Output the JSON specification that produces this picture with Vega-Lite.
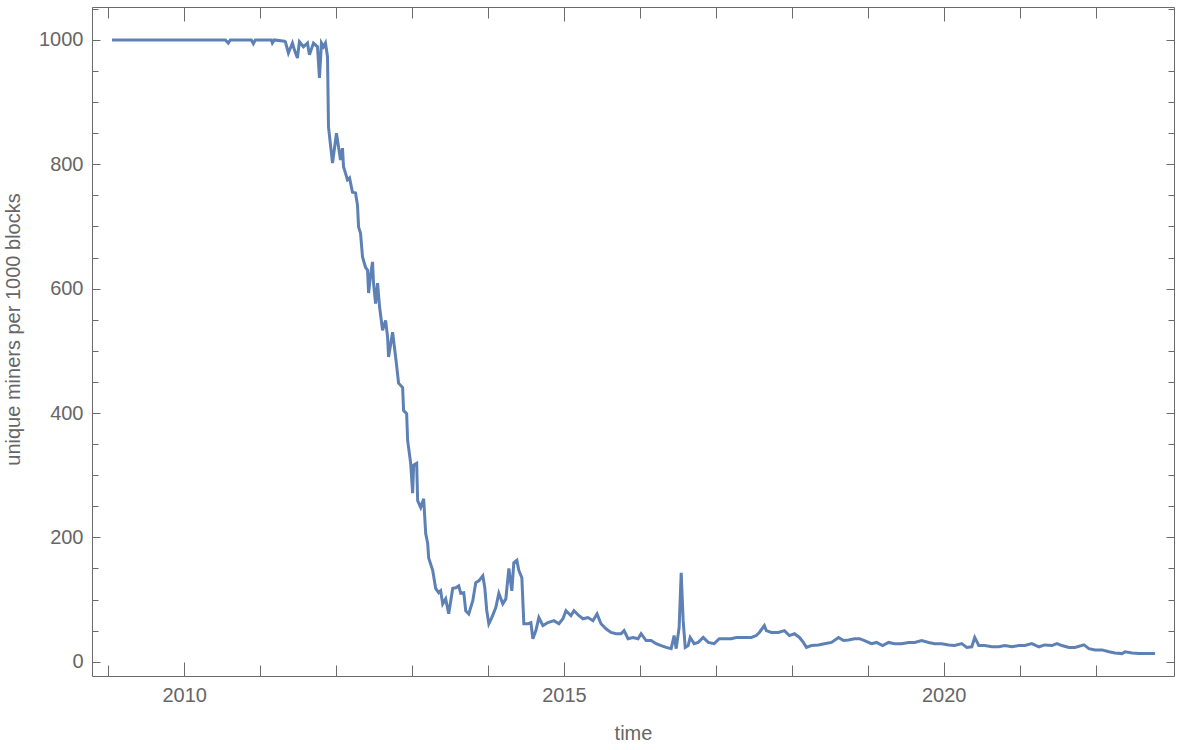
{
  "$schema": "https://vega.github.io/schema/vega-lite/v6.json",
  "width": 1082,
  "height": 669,
  "autosize": "none",
  "padding": {"left": 92, "top": 7, "right": 3, "bottom": 74},
  "background": "white",
  "config": {
    "view": {"stroke": null},
    "axis": {
      "grid": false,
      "domainColor": "#6b6b6b",
      "tickColor": "#6b6b6b",
      "labelColor": "#666666",
      "titleColor": "#666666",
      "labelFont": "Liberation Sans",
      "titleFont": "Liberation Sans",
      "labelFontSize": 20,
      "titleFontSize": 20,
      "titleFontWeight": "normal",
      "labelFlush": false,
      "labelOverlap": false
    }
  },
  "data": {"values": [
    {"year": 2009.050, "miners": 1000},
    {"year": 2010.541, "miners": 1000},
    {"year": 2010.580, "miners": 995},
    {"year": 2010.607, "miners": 1000},
    {"year": 2010.884, "miners": 1000},
    {"year": 2010.910, "miners": 994},
    {"year": 2010.937, "miners": 1000},
    {"year": 2011.148, "miners": 1000},
    {"year": 2011.161, "miners": 995},
    {"year": 2011.187, "miners": 1000},
    {"year": 2011.319, "miners": 998},
    {"year": 2011.332, "miners": 997},
    {"year": 2011.372, "miners": 979},
    {"year": 2011.425, "miners": 995},
    {"year": 2011.451, "miners": 984},
    {"year": 2011.491, "miners": 971},
    {"year": 2011.517, "miners": 997},
    {"year": 2011.570, "miners": 989},
    {"year": 2011.623, "miners": 995},
    {"year": 2011.649, "miners": 976},
    {"year": 2011.702, "miners": 995},
    {"year": 2011.755, "miners": 989},
    {"year": 2011.781, "miners": 939},
    {"year": 2011.807, "miners": 995},
    {"year": 2011.834, "miners": 989},
    {"year": 2011.860, "miners": 995},
    {"year": 2011.887, "miners": 973},
    {"year": 2011.900, "miners": 860},
    {"year": 2011.953, "miners": 802},
    {"year": 2012.005, "miners": 850},
    {"year": 2012.032, "miners": 828},
    {"year": 2012.058, "miners": 807},
    {"year": 2012.084, "miners": 826},
    {"year": 2012.098, "miners": 796},
    {"year": 2012.150, "miners": 775},
    {"year": 2012.177, "miners": 778},
    {"year": 2012.216, "miners": 755},
    {"year": 2012.256, "miners": 754},
    {"year": 2012.282, "miners": 734},
    {"year": 2012.296, "miners": 699},
    {"year": 2012.322, "miners": 689},
    {"year": 2012.348, "miners": 651},
    {"year": 2012.388, "miners": 634},
    {"year": 2012.414, "miners": 630},
    {"year": 2012.428, "miners": 593},
    {"year": 2012.454, "miners": 622},
    {"year": 2012.480, "miners": 643},
    {"year": 2012.493, "miners": 609},
    {"year": 2012.520, "miners": 576},
    {"year": 2012.546, "miners": 609},
    {"year": 2012.573, "miners": 570},
    {"year": 2012.612, "miners": 533},
    {"year": 2012.652, "miners": 549},
    {"year": 2012.678, "miners": 522},
    {"year": 2012.691, "miners": 490},
    {"year": 2012.744, "miners": 530},
    {"year": 2012.784, "miners": 490},
    {"year": 2012.823, "miners": 448},
    {"year": 2012.876, "miners": 441},
    {"year": 2012.889, "miners": 404},
    {"year": 2012.929, "miners": 399},
    {"year": 2012.942, "miners": 356},
    {"year": 2012.982, "miners": 319},
    {"year": 2013.008, "miners": 271},
    {"year": 2013.021, "miners": 316},
    {"year": 2013.061, "miners": 319},
    {"year": 2013.074, "miners": 259},
    {"year": 2013.114, "miners": 248},
    {"year": 2013.153, "miners": 262},
    {"year": 2013.180, "miners": 206},
    {"year": 2013.206, "miners": 190},
    {"year": 2013.219, "miners": 167},
    {"year": 2013.272, "miners": 147},
    {"year": 2013.311, "miners": 118},
    {"year": 2013.351, "miners": 111},
    {"year": 2013.377, "miners": 114},
    {"year": 2013.404, "miners": 93},
    {"year": 2013.443, "miners": 101},
    {"year": 2013.483, "miners": 77},
    {"year": 2013.536, "miners": 118},
    {"year": 2013.575, "miners": 119},
    {"year": 2013.615, "miners": 122},
    {"year": 2013.641, "miners": 110},
    {"year": 2013.681, "miners": 111},
    {"year": 2013.707, "miners": 82},
    {"year": 2013.747, "miners": 77},
    {"year": 2013.800, "miners": 98},
    {"year": 2013.839, "miners": 127},
    {"year": 2013.879, "miners": 130},
    {"year": 2013.932, "miners": 138},
    {"year": 2013.958, "miners": 119},
    {"year": 2013.984, "miners": 82},
    {"year": 2014.011, "miners": 61},
    {"year": 2014.050, "miners": 71},
    {"year": 2014.103, "miners": 87},
    {"year": 2014.143, "miners": 110},
    {"year": 2014.195, "miners": 93},
    {"year": 2014.235, "miners": 101},
    {"year": 2014.275, "miners": 150},
    {"year": 2014.314, "miners": 114},
    {"year": 2014.340, "miners": 159},
    {"year": 2014.380, "miners": 163},
    {"year": 2014.406, "miners": 147},
    {"year": 2014.446, "miners": 135},
    {"year": 2014.472, "miners": 61},
    {"year": 2014.525, "miners": 61},
    {"year": 2014.565, "miners": 63},
    {"year": 2014.591, "miners": 37},
    {"year": 2014.631, "miners": 50},
    {"year": 2014.670, "miners": 71},
    {"year": 2014.723, "miners": 58},
    {"year": 2014.789, "miners": 63},
    {"year": 2014.868, "miners": 66},
    {"year": 2014.934, "miners": 61},
    {"year": 2014.987, "miners": 69},
    {"year": 2015.027, "miners": 82},
    {"year": 2015.092, "miners": 74},
    {"year": 2015.132, "miners": 82},
    {"year": 2015.198, "miners": 74},
    {"year": 2015.251, "miners": 69},
    {"year": 2015.317, "miners": 71},
    {"year": 2015.383, "miners": 66},
    {"year": 2015.436, "miners": 77},
    {"year": 2015.488, "miners": 61},
    {"year": 2015.554, "miners": 53},
    {"year": 2015.620, "miners": 47},
    {"year": 2015.686, "miners": 45},
    {"year": 2015.752, "miners": 45},
    {"year": 2015.792, "miners": 50},
    {"year": 2015.844, "miners": 37},
    {"year": 2015.910, "miners": 39},
    {"year": 2015.976, "miners": 37},
    {"year": 2016.016, "miners": 45},
    {"year": 2016.082, "miners": 34},
    {"year": 2016.148, "miners": 34},
    {"year": 2016.214, "miners": 29},
    {"year": 2016.280, "miners": 26},
    {"year": 2016.346, "miners": 23},
    {"year": 2016.412, "miners": 21},
    {"year": 2016.451, "miners": 42},
    {"year": 2016.478, "miners": 21},
    {"year": 2016.517, "miners": 55},
    {"year": 2016.544, "miners": 143},
    {"year": 2016.570, "miners": 66},
    {"year": 2016.597, "miners": 23},
    {"year": 2016.636, "miners": 26},
    {"year": 2016.662, "miners": 39},
    {"year": 2016.715, "miners": 29},
    {"year": 2016.768, "miners": 31},
    {"year": 2016.834, "miners": 39},
    {"year": 2016.900, "miners": 31},
    {"year": 2016.979, "miners": 29},
    {"year": 2017.045, "miners": 37},
    {"year": 2017.111, "miners": 37},
    {"year": 2017.203, "miners": 37},
    {"year": 2017.269, "miners": 39},
    {"year": 2017.375, "miners": 39},
    {"year": 2017.467, "miners": 39},
    {"year": 2017.533, "miners": 42},
    {"year": 2017.573, "miners": 47},
    {"year": 2017.639, "miners": 58},
    {"year": 2017.665, "miners": 50},
    {"year": 2017.731, "miners": 47},
    {"year": 2017.823, "miners": 47},
    {"year": 2017.903, "miners": 50},
    {"year": 2017.969, "miners": 42},
    {"year": 2018.035, "miners": 45},
    {"year": 2018.101, "miners": 39},
    {"year": 2018.153, "miners": 31},
    {"year": 2018.193, "miners": 23},
    {"year": 2018.259, "miners": 26},
    {"year": 2018.351, "miners": 27},
    {"year": 2018.430, "miners": 29},
    {"year": 2018.523, "miners": 31},
    {"year": 2018.615, "miners": 39},
    {"year": 2018.681, "miners": 34},
    {"year": 2018.747, "miners": 35},
    {"year": 2018.826, "miners": 37},
    {"year": 2018.892, "miners": 37},
    {"year": 2018.958, "miners": 34},
    {"year": 2019.050, "miners": 29},
    {"year": 2019.116, "miners": 31},
    {"year": 2019.196, "miners": 26},
    {"year": 2019.275, "miners": 31},
    {"year": 2019.354, "miners": 29},
    {"year": 2019.446, "miners": 29},
    {"year": 2019.539, "miners": 31},
    {"year": 2019.618, "miners": 31},
    {"year": 2019.710, "miners": 34},
    {"year": 2019.802, "miners": 31},
    {"year": 2019.882, "miners": 29},
    {"year": 2019.974, "miners": 29},
    {"year": 2020.066, "miners": 27},
    {"year": 2020.145, "miners": 26},
    {"year": 2020.238, "miners": 29},
    {"year": 2020.304, "miners": 23},
    {"year": 2020.370, "miners": 24},
    {"year": 2020.409, "miners": 39},
    {"year": 2020.462, "miners": 26},
    {"year": 2020.541, "miners": 26},
    {"year": 2020.634, "miners": 24},
    {"year": 2020.726, "miners": 24},
    {"year": 2020.805, "miners": 26},
    {"year": 2020.897, "miners": 24},
    {"year": 2020.990, "miners": 26},
    {"year": 2021.069, "miners": 26},
    {"year": 2021.161, "miners": 29},
    {"year": 2021.254, "miners": 24},
    {"year": 2021.333, "miners": 27},
    {"year": 2021.425, "miners": 26},
    {"year": 2021.491, "miners": 29},
    {"year": 2021.557, "miners": 26},
    {"year": 2021.649, "miners": 23},
    {"year": 2021.729, "miners": 23},
    {"year": 2021.847, "miners": 27},
    {"year": 2021.913, "miners": 21},
    {"year": 2021.992, "miners": 19},
    {"year": 2022.085, "miners": 19},
    {"year": 2022.177, "miners": 16},
    {"year": 2022.256, "miners": 14},
    {"year": 2022.349, "miners": 13},
    {"year": 2022.388, "miners": 16},
    {"year": 2022.481, "miners": 14},
    {"year": 2022.573, "miners": 13},
    {"year": 2022.652, "miners": 13},
    {"year": 2022.784, "miners": 13}
  ]},
  "layer": [
    {
      "mark": {"type": "line", "color": "#5E81B5", "strokeWidth": 3, "clip": true},
      "encoding": {
        "x": {
          "field": "year", "type": "quantitative",
          "scale": {"domain": [2008.786, 2023.033], "nice": false, "zero": false},
          "axis": {
            "orient": "bottom",
            "title": "time",
            "values": [2009, 2010, 2011, 2012, 2013, 2014, 2015, 2016, 2017, 2018, 2019, 2020, 2021, 2022],
            "format": "d",
            "labelExpr": "datum.value % 5 === 0 ? datum.label : ''",
            "tickSize": {"condition": {"test": "datum.value % 5 === 0", "value": -14}, "value": -11},
            "labelPadding": 23,
            "titleY": 57,
            "titleBaseline": "middle"
          }
        },
        "y": {
          "field": "miners", "type": "quantitative",
          "scale": {"domain": [-23, 1053], "nice": false, "zero": false},
          "axis": {
            "orient": "left",
            "title": "unique miners per 1000 blocks",
            "values": [0, 50, 100, 150, 200, 250, 300, 350, 400, 450, 500, 550, 600, 650, 700, 750, 800, 850, 900, 950, 1000, 1050],
            "labelExpr": "datum.value % 200 === 0 ? datum.label : ''",
            "format": "d",
            "tickSize": {"condition": {"test": "datum.value % 200 === 0", "value": -8}, "value": -6},
            "labelPadding": 17,
            "titleAngle": -90,
            "titleX": -79,
            "titleY": 322,
            "titleAlign": "center",
            "titleBaseline": "middle"
          }
        }
      }
    },
    {
      "mark": {"type": "line", "opacity": 0},
      "encoding": {
        "x": {
          "field": "year", "type": "quantitative",
          "axis": {
            "orient": "top",
            "title": null,
            "labels": false,
            "values": [2009, 2010, 2011, 2012, 2013, 2014, 2015, 2016, 2017, 2018, 2019, 2020, 2021, 2022],
            "tickSize": {"condition": {"test": "datum.value % 5 === 0", "value": -14}, "value": -11}
          }
        },
        "y": {
          "field": "miners", "type": "quantitative",
          "axis": {
            "orient": "right",
            "title": null,
            "labels": false,
            "values": [0, 50, 100, 150, 200, 250, 300, 350, 400, 450, 500, 550, 600, 650, 700, 750, 800, 850, 900, 950, 1000, 1050],
            "tickSize": {"condition": {"test": "datum.value % 200 === 0", "value": -8}, "value": -6}
          }
        }
      }
    }
  ],
  "resolve": {"axis": {"x": "independent", "y": "independent"}}
}
